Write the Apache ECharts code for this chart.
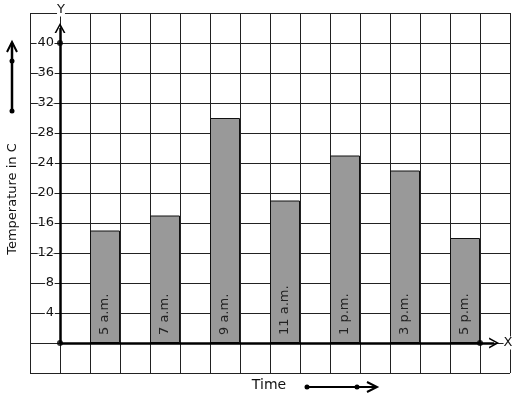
<!DOCTYPE html>
<html>
<head>
<meta charset="utf-8">
<script src="https://cdn.jsdelivr.net/npm/echarts@6/dist/echarts.min.js"></script>
<style>
html, body { margin: 0; padding: 0; background: #fff; }
#main { width: 517px; height: 399px; }
</style>
</head>
<body>
<div id="main"></div>
<script>
// temperature readings
const times = ['5 a.m.', '7 a.m.', '9 a.m.', '11 a.m.', '1 p.m.', '3 p.m.', '5 p.m.'];
const temps = [15, 17, 30, 19, 25, 23, 14];
const yTicks = [4, 8, 12, 16, 20, 24, 28, 32, 36, 40];
// axis ends and dots, in data units
const axisDots = [[0, 0], [0, 40], [14, 0]];

// grid paper has 16 columns, a bar sits in every second one from the third
const slots = new Array(16).fill('');
times.forEach((t, i) => { slots[2 + 2 * i] = t; });
const barData = slots.map(s => (s ? temps[times.indexOf(s)] : '-'));

const FONT = 'DejaVu Sans';
const chevron = 'path://M0,10 L5,0 L10,10 L8.4,10 L5,3 L1.6,10 Z';

const myChart = echarts.init(document.getElementById('main'));
const option = {
  animation: false,
  backgroundColor: '#fff',
  grid: { left: 30, top: 13, width: 480, height: 360 },
  xAxis: [
    {
      type: 'category',
      data: slots,
      show: false
    },
    {
      type: 'value',
      min: -1,
      max: 15,
      interval: 1,
      axisLine: { show: false },
      axisTick: { show: false },
      axisLabel: { show: false },
      splitLine: { show: true, lineStyle: { color: '#222', width: 1 } }
    }
  ],
  yAxis: {
    type: 'value',
    min: -4,
    max: 44,
    interval: 4,
    position: 'left',
    offset: -30, // labels sit in the first column, left of the drawn y axis
    axisLine: { show: false, onZero: false },
    axisTick: { show: false },
    splitLine: { show: true, lineStyle: { color: '#222', width: 1 } },
    axisLabel: {
      margin: 6,
      color: '#111',
      fontFamily: FONT,
      fontSize: 13,
      textBorderColor: '#fff',
      textBorderWidth: 3,
      formatter: v => (yTicks.indexOf(v) >= 0 ? String(v) : '')
    }
  },
  series: [
    {
      type: 'bar',
      xAxisIndex: 0,
      data: barData,
      barWidth: '100%',
      itemStyle: { color: '#999', borderColor: '#111', borderWidth: 1 },
      label: {
        show: true,
        position: 'insideBottom',
        rotate: 90,
        align: 'left',
        verticalAlign: 'middle',
        distance: 8,
        color: '#222',
        fontFamily: FONT,
        fontSize: 13,
        formatter: p => p.name
      }
    },
    {
      type: 'scatter',
      xAxisIndex: 1,
      data: axisDots,
      symbolSize: 6,
      itemStyle: { color: '#000' },
      z: 5,
      markLine: {
        silent: true,
        symbol: ['none', chevron],
        symbolSize: [11, 10],
        label: { show: false },
        lineStyle: { color: '#000', width: 2.5, type: 'solid' },
        data: [
          [{ coord: [0, 0] }, { coord: [0, 42] }],
          [{ coord: [0, 0] }, { coord: [14.47, 0] }]
        ]
      }
    }
  ],
  graphic: [
    { type: 'text', x: 61, y: 10, z: 100, style: { text: 'Y', font: '13px ' + FONT, fill: '#111', align: 'center', verticalAlign: 'middle', backgroundColor: '#fff' } },
    { type: 'text', x: 508, y: 343, z: 100, style: { text: 'X', font: '13px ' + FONT, fill: '#111', align: 'center', verticalAlign: 'middle', backgroundColor: '#fff' } },
    { type: 'text', x: 13, y: 199, z: 100, rotation: Math.PI / 2, style: { text: 'Temperature in C', font: '13px ' + FONT, fill: '#111', align: 'center', verticalAlign: 'middle' } },
    { type: 'text', x: 269, y: 385, z: 100, style: { text: 'Time', font: '14px ' + FONT, fill: '#111', align: 'center', verticalAlign: 'middle' } },
    // left arrow
    { type: 'line', z: 100, shape: { x1: 12, y1: 111, x2: 12, y2: 43 }, style: { stroke: '#000', lineWidth: 2.5 } },
    { type: 'polyline', z: 100, shape: { points: [[7, 52], [12, 42], [17, 52]] }, style: { stroke: '#000', lineWidth: 2, fill: null } },
    { type: 'circle', z: 100, shape: { cx: 12, cy: 61, r: 2.5 }, style: { fill: '#000' } },
    { type: 'circle', z: 100, shape: { cx: 12, cy: 111, r: 2.5 }, style: { fill: '#000' } },
    // time arrow
    { type: 'line', z: 100, shape: { x1: 307, y1: 387, x2: 376, y2: 387 }, style: { stroke: '#000', lineWidth: 2 } },
    { type: 'polyline', z: 100, shape: { points: [[367, 382], [377, 387], [367, 392]] }, style: { stroke: '#000', lineWidth: 2, fill: null } },
    { type: 'circle', z: 100, shape: { cx: 307, cy: 387, r: 2.5 }, style: { fill: '#000' } },
    { type: 'circle', z: 100, shape: { cx: 357, cy: 387, r: 2.5 }, style: { fill: '#000' } }
  ]
};
myChart.setOption(option);
</script>
</body>
</html>
